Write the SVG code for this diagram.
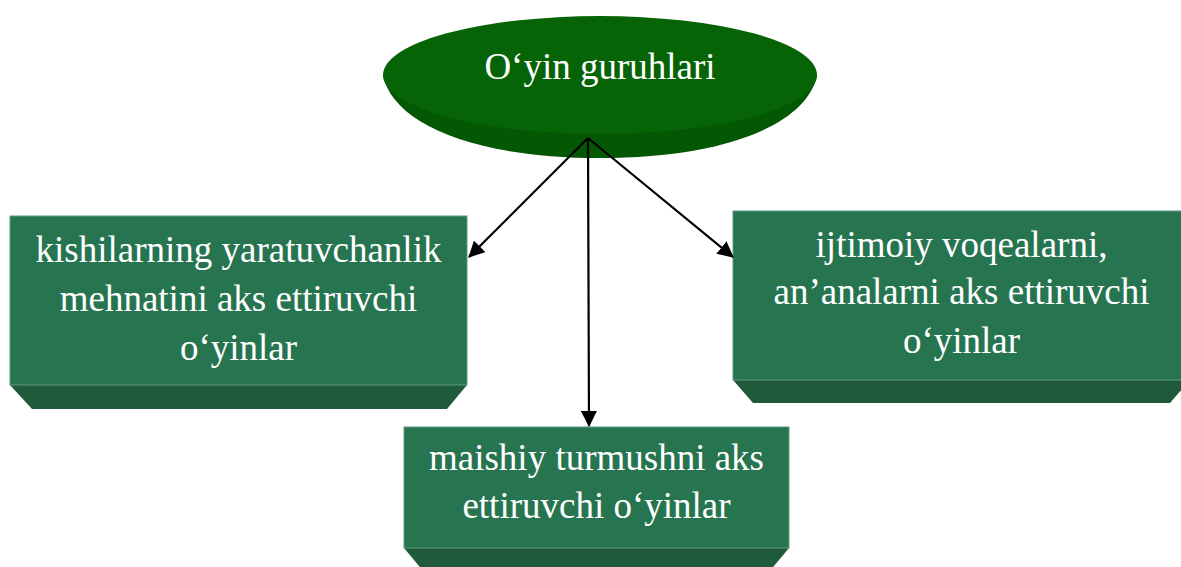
<svg xmlns="http://www.w3.org/2000/svg" width="1181" height="567" viewBox="0 0 1181 567">
<style>
.face{fill:#277550;stroke:#5f9a7c;stroke-width:1}
.bevel{fill:#1f5a3b}
.t{font-family:"Liberation Serif","Times New Roman",serif;font-size:37px;fill:#ffffff;text-anchor:middle}
.conn{stroke:#000;stroke-width:2.2;fill:none;marker-end:url(#ah)}
</style>
<defs>
<marker id="ah" markerWidth="16" markerHeight="16" refX="15" refY="8" orient="auto" markerUnits="userSpaceOnUse">
<path d="M0,0 L16,8 L0,16 Z" fill="#000"/>
</marker>
</defs>
<rect width="1181" height="567" fill="#fff"/>
<g id="root">
<path d="M383,75 C392,122 470,158 600,158 C730,158 808,122 817,75 Z" fill="#045804"/>
<ellipse cx="600" cy="75" rx="217" ry="59" fill="#066306"/>
<text class="t" x="600" y="79">O‘yin guruhlari</text>
</g>
<g id="left">
<polygon class="bevel" points="10,385 467,385 447,409 32,409"/>
<rect class="face" x="10" y="216" width="457" height="169"/>
<text class="t" x="238.5" y="262">kishilarning yaratuvchanlik</text>
<text class="t" x="238.5" y="311">mehnatini aks ettiruvchi</text>
<text class="t" x="238.5" y="360">o‘yinlar</text>
</g>
<g id="right">
<polygon class="bevel" points="733,380 1190,380 1170,403 753,403"/>
<rect class="face" x="733" y="211" width="457" height="169"/>
<text class="t" x="961.5" y="257">ijtimoiy voqealarni,</text>
<text class="t" x="961.5" y="304">an’analarni aks ettiruvchi</text>
<text class="t" x="961.5" y="353">o‘yinlar</text>
</g>
<g id="bottom">
<polygon class="bevel" points="404,548 789,548 769,572 424,572"/>
<rect class="face" x="404" y="427" width="385" height="121"/>
<text class="t" x="596.5" y="470">maishiy turmushni aks</text>
<text class="t" x="596.5" y="518">ettiruvchi o‘yinlar</text>
</g>
<g id="connectors">
<line class="conn" x1="588" y1="138" x2="469" y2="257"/>
<line class="conn" x1="588" y1="138" x2="589" y2="426"/>
<line class="conn" x1="588" y1="138" x2="733" y2="257"/>
</g>
</svg>
